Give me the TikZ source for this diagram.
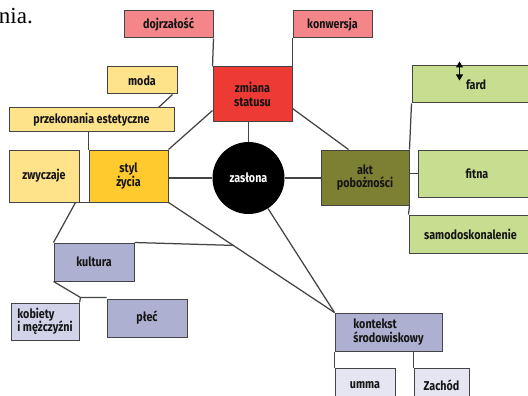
\documentclass[tikz,border=0pt]{standalone}
\usepackage{fontspec}
\setmainfont{Liberation Serif}
\newfontfamily\lbl{Fira Sans}[FakeStretch=0.84]
\usetikzlibrary{calc,arrows.meta}
\definecolor{pinkc}{HTML}{F4868A}
\definecolor{redc}{HTML}{EE3A35}
\definecolor{ltyel}{HTML}{FFE38A}
\definecolor{golden}{HTML}{FFCA2E}
\definecolor{olive}{HTML}{7D7F33}
\definecolor{ltgreen}{HTML}{C7DE91}
\definecolor{lav}{HTML}{AEB0D1}
\definecolor{ltlav}{HTML}{D2D3E8}
\definecolor{palelav}{HTML}{E6E6F2}
\definecolor{edge}{HTML}{444444}
\definecolor{txt}{HTML}{151515}
\tikzset{
  lblfont/.style={font=\lbl\bfseries\fontsize{12.8}{13.6}\selectfont},
  box/.style={draw=edge, line width=1pt, rectangle, inner sep=0pt, align=center,
    lblfont, text=txt},
  conn/.style={draw=edge, line width=1.25pt},
}
\begin{document}
\begin{tikzpicture}[x=1pt,y=-1pt]
\clip (0,0) rectangle (528,396);
\useasboundingbox (0,0) rectangle (528,396);
\fill[white] (0,0) rectangle (528,396);
\node[anchor=base east, font=\fontsize{23}{26}\selectfont, inner sep=0pt] (nia) at (33,24) {nia.};

\node[box, fill=pinkc, minimum width=89pt, minimum height=27pt] (dojrz) at (168.5,24.5) {dojrzałość};
\node[box, fill=pinkc, minimum width=79pt, minimum height=27pt] (konw) at (332.5,24.5) {konwersja};
\node[box, fill=ltyel, minimum width=70pt, minimum height=27pt] (moda) at (142,80.5) {moda};
\node[box, fill=ltyel, minimum width=165pt, minimum height=23pt] (przek) at (91.5,119.5) {przekonania estetyczne};
\node[box, fill=redc, minimum width=79pt, minimum height=55pt] (zmiana) at (252.5,94.5) {zmiana\\statusu};
\node[box, fill=ltyel, minimum width=70pt, minimum height=52pt] (zwycz) at (44,176) {zwyczaje};
\node[box, fill=golden, minimum width=79pt, minimum height=52pt] (styl) at (128.5,176) {styl\\życia};
\node[circle, fill=black, minimum size=72pt, inner sep=0pt, text=white, lblfont] (zaslona) at (248.5,178) {zasłona};
\node[box, fill=olive, minimum width=88pt, minimum height=55pt] (akt) at (365,177.5) {akt\\pobożności};
\node[box, fill=ltgreen, minimum width=128pt, minimum height=37pt] (fard) at (476,84.5) {\raisebox{-2pt}{fard}};
\node[box, fill=ltgreen, minimum width=118pt, minimum height=47pt] (fitna) at (477,173.5) {fitna};
\node[box, fill=ltgreen, minimum width=123pt, minimum height=38pt] (samo) at (470.5,234) {samodoskonalenie};
\node[box, fill=lav, minimum width=80pt, minimum height=38pt] (kultura) at (94,262) {kultura};
\node[box, fill=ltlav, minimum width=68pt, minimum height=37pt, align=left] (kob) at (45,321.5) {kobiety\\i mężczyźni};
\node[box, fill=lav, minimum width=80pt, minimum height=38pt] (plec) at (147,318) {płeć};
\node[box, fill=lav, minimum width=107pt, minimum height=38pt, align=left] (kont) at (388.5,332) {kontekst\\środowiskowy};
\node[box, fill=palelav, minimum width=60pt, minimum height=34pt] (umma) at (365,385) {umma};
\node[box, fill=palelav, minimum width=55pt, minimum height=34pt] (zach) at (441.5,385) {Zachód};

% fard arrow symbol
\draw[line width=1pt, {Triangle[width=7pt,length=6pt]}-{Triangle[width=7pt,length=6pt]}] ($(fard.north west)+(48,-4)$) -- ($(fard.north west)+(48,15)$);

% connectors
\draw[conn] (dojrz.south east) -- (zmiana.north west);
\draw[conn] (konw.south west) -- (zmiana.north east);
\draw[conn] ($(moda.south east)+(-5,0)$) -- ($(przek.north east)+(-16,0)$);
\draw[conn] (styl.north west) -- (styl.north west |- przek.south);
\draw[conn] ($(zmiana.south west)+(0,-12)$) -- (styl.north east);
\draw[conn] ($(zmiana.south east)+(0,-14)$) -- ($(akt.north west)+(28,0)$);
\draw[conn] (zaslona.north) -- (zaslona.north |- zmiana.south);
\draw[conn] (zaslona.west) -- (zaslona.west -| styl.east);
\draw[conn] (zaslona.east) -- (zaslona.east -| akt.west);
\draw[conn] (styl.south east) -- coordinate[pos=0.39] (mid) (kont.north west);
\draw[conn] (zaslona) -- (kont.north west);
\draw[conn] (kultura.north east) -- (mid);
\draw[conn] (zwycz.south east) -- (styl.south west);
\draw[conn] ($(zwycz.south east)+(-4,0)$) -- (kultura.north west);
\coordinate (kk) at ($(kob.north east)+(1,-5)$);
\draw[conn] (kultura.south west) -- (kk) -- (kk -| plec.west);
\draw[conn] (kk) -- (kob.north east);
\draw[conn] (akt.north east) -- (fard.south west);
\draw[conn] (fitna.west -| akt.east) -- (fitna.west);
\draw[conn] (akt.south east) -- (samo.north west);
\draw[conn] (kont.south west) -- (umma.north west);
\draw[conn] (zach.north west |- kont.south) -- (zach.north west);
\end{tikzpicture}
\end{document}
